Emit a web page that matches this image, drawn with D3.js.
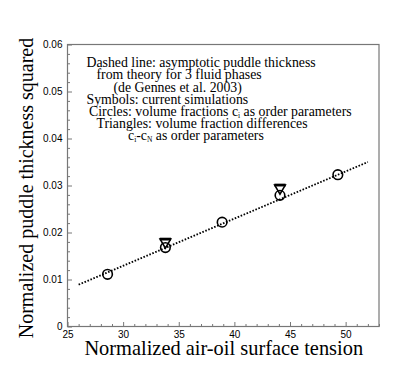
<!DOCTYPE html>
<head>
  <meta charset="utf-8">
  <script src="https://d3js.org/d3.v7.min.js"></script>
  <style>
    body { margin:0; background:#fff; }
    svg { display:block; }
  </style>
</head>

<body>
  <svg width="415" height="369"></svg>
  <script>
    // axis setup
    var xTicks = [25, 30, 35, 40, 45, 50];
    var yTicks = [0, 0.01, 0.02, 0.03, 0.04, 0.05, 0.06];
    var xTitle = 'Normalized air-oil surface tension';
    var yTitle = 'Normalized puddle thickness squared';

    // circles: volume fractions c_i
    var circleX = [28.6, 33.8, 38.9, 44.1, 49.3];
    var circleY = [0.0111, 0.0168, 0.0222, 0.0279, 0.0323];

    // triangles: volume fraction differences c_i - c_N
    var triX = [33.8, 44.1];
    var triY = [0.0177, 0.0292];

    // dashed theory line (de Gennes et al. 2003), end points
    var theoryX = [26, 52];
    var theoryY = [0.0089, 0.0350];

    // legend text, each line is a list of [text, subscript?]
    var noteLines = [
      [['Dashed line: asymptotic puddle thickness']],
      [['from theory for 3 fluid phases']],
      [['(de Gennes et al. 2003)']],
      [['Symbols: current simulations']],
      [['Circles: volume fractions c'], ['i', true], [' as order parameters']],
      [['Triangles: volume fraction differences']],
      [['c'], ['i', true], ['-c'], ['N', true], [' as order parameters']]
    ];
    var noteIndent = [0, 10, 27, 0, 2.5, 10, 41.5];

    var margin = {top: 44.5, right: 36, bottom: 42.5, left: 67.5};
    var width = 415, height = 369;

    var svg = d3.select('svg');

    var x = d3.scaleLinear().domain([25, 53])
      .range([margin.left, width - margin.right]);
    var y = d3.scaleLinear().domain([0, 0.06])
      .range([height - margin.bottom, margin.top]);

    var axisColor = '#777';

    // minor ticks first
    var xMinor = d3.range(25, 54, 1).filter(d => d % 5 !== 0);
    var yMinor = d3.range(0, 61, 2).filter(d => d % 10 !== 0).map(d => d / 1000);

    var gxm = svg.append('g')
      .attr('transform', 'translate(0,' + y(0) + ')')
      .call(d3.axisBottom(x).tickValues(xMinor).tickSize(-2.5).tickFormat(''));
    var gym = svg.append('g')
      .attr('transform', 'translate(' + x(25) + ',0)')
      .call(d3.axisLeft(y).tickValues(yMinor).tickSize(-2.5).tickFormat(''));

    var gx = svg.append('g')
      .attr('transform', 'translate(0,' + y(0) + ')')
      .call(d3.axisBottom(x).tickValues(xTicks).tickSize(-4.5).tickPadding(4));
    var gy = svg.append('g')
      .attr('transform', 'translate(' + x(25) + ',0)')
      .call(d3.axisLeft(y).tickValues(yTicks).tickSize(-4.5).tickPadding(5)
        .tickFormat(d => d === 0 ? '0' : d3.format('.2f')(d)));

    [gxm, gym, gx, gy].forEach(g => {
      g.select('.domain').remove();
      g.selectAll('line').attr('stroke', axisColor);
      g.selectAll('text')
        .attr('fill', '#000')
        .style('font-family', '"Liberation Sans", Arial, sans-serif')
        .style('font-size', '10px');
    });

    // frame
    svg.append('rect')
      .attr('x', x(25)).attr('y', y(0.06))
      .attr('width', x(53) - x(25)).attr('height', y(0) - y(0.06))
      .attr('fill', 'none').attr('stroke', axisColor).attr('stroke-width', 1.2);

    // theory line
    var line = d3.line().x(d => x(d[0])).y(d => y(d[1]));
    svg.append('path')
      .datum(theoryX.map((v, i) => [v, theoryY[i]]))
      .attr('d', line)
      .attr('fill', 'none')
      .attr('stroke', '#000')
      .attr('stroke-width', 1.8)
      .attr('stroke-dasharray', '1.6,1.6');

    // circles
    svg.selectAll('circle.sim')
      .data(circleX.map((v, i) => [v, circleY[i]]))
      .enter().append('circle')
      .attr('class', 'sim')
      .attr('cx', d => x(d[0]))
      .attr('cy', d => y(d[1]))
      .attr('r', 4.8)
      .attr('fill', 'none')
      .attr('stroke', '#000')
      .attr('stroke-width', 1.6);

    // down triangles, thicker top edge
    var tri = svg.selectAll('g.tri')
      .data(triX.map((v, i) => [v, triY[i]]))
      .enter().append('g')
      .attr('class', 'tri')
      .attr('transform', d => 'translate(' + x(d[0]) + ',' + y(d[1]) + ')');
    tri.append('path')
      .attr('d', 'M-5.3,-4.2L5.3,-4.2L0,4.8Z')
      .attr('fill', 'none')
      .attr('stroke', '#000')
      .attr('stroke-width', 1.6);
    tri.append('line')
      .attr('x1', -5.6).attr('x2', 5.6)
      .attr('y1', -4.2).attr('y2', -4.2)
      .attr('stroke', '#000')
      .attr('stroke-width', 2.8);

    // legend text, one text element per line
    noteLines.forEach((parts, i) => {
      var t = svg.append('text')
        .attr('x', 86.5 + noteIndent[i])
        .attr('y', 67.3 + i * 12.1)
        .style('font-family', '"Liberation Serif", "Times New Roman", serif')
        .style('font-size', '13.8px')
        .attr('fill', '#000');
      var shifted = false;
      parts.forEach(p => {
        var s = t.append('tspan').text(p[0]);
        if (p[1]) {
          s.attr('dy', 2.5).style('font-size', '7.5px');
          shifted = true;
        } else if (shifted) {
          s.attr('dy', -2.5);
          shifted = false;
        }
      });
    });

    // axis titles
    svg.append('text')
      .attr('x', (x(25) + x(53)) / 2 + 0.5)
      .attr('y', 355)
      .attr('text-anchor', 'middle')
      .style('font-family', '"Liberation Serif", "Times New Roman", serif')
      .style('font-size', '20.4px')
      .text(xTitle);

    svg.append('text')
      .attr('transform', 'translate(33,188) rotate(-90)')
      .attr('text-anchor', 'middle')
      .style('font-family', '"Liberation Serif", "Times New Roman", serif')
      .style('font-size', '20px')
      .text(yTitle);
  </script>
</body>
